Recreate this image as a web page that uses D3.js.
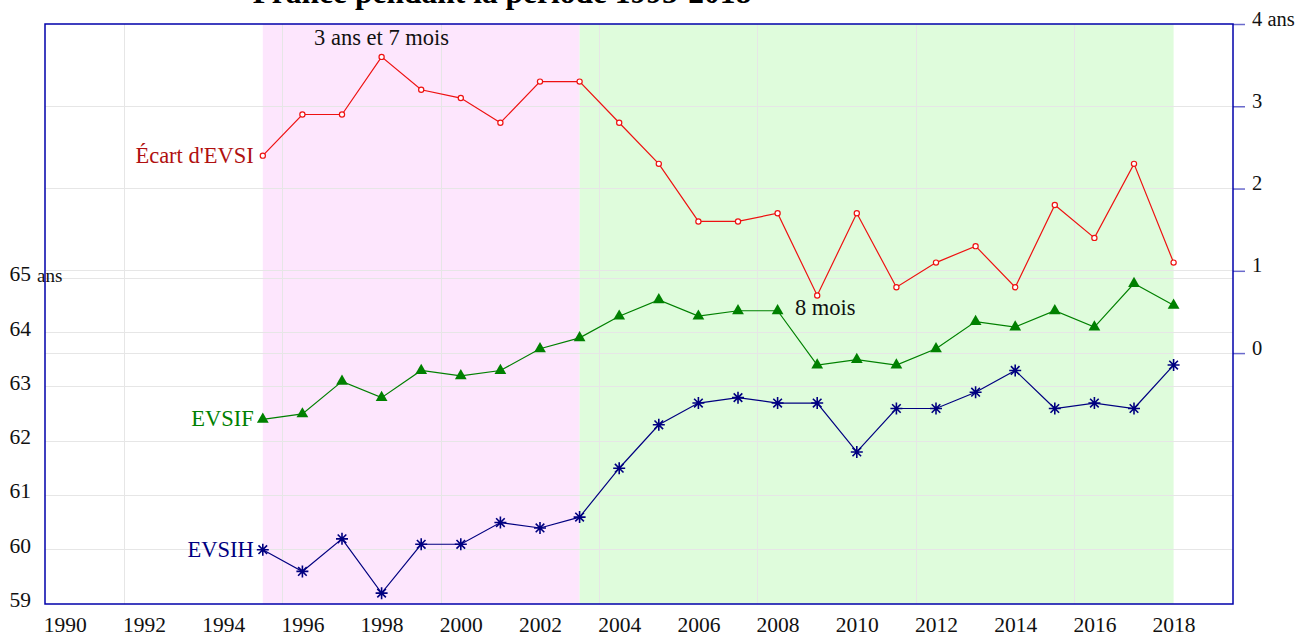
<!DOCTYPE html>
<meta charset="utf-8">
<style>
  body { margin: 0; background: #fff; font-family: "Liberation Serif", serif; }
  .grid line { stroke: #e6e6e6; stroke-width: 1px; shape-rendering: crispEdges; }
  .axis text { font-family: "Liberation Serif", serif; fill: #111; }
  .axis .domain { display: none; }
  .x.axis line { display: none; }
  .yl.axis line { display: none; }
  .yr.axis line { stroke: #6a6acc; stroke-width: 1.5px; }
  .frame { fill: none; stroke: #0000aa; stroke-width: 1.5px; }
  .lbl { font-family: "Liberation Serif", serif; font-size: 22.5px; }
</style>
<body>
<div id="chart"></div>
<script src="https://d3js.org/d3.v7.min.js"></script>
<script>
// data
const years = d3.range(1995, 2019);
const evsif = [62.4, 62.5, 63.1, 62.8, 63.3, 63.2, 63.3, 63.7, 63.9, 64.3, 64.6, 64.3,
               64.4, 64.4, 63.4, 63.5, 63.4, 63.7, 64.2, 64.1, 64.4, 64.1, 64.9, 64.5];
const evsih = [60.0, 59.6, 60.2, 59.2, 60.1, 60.1, 60.5, 60.4, 60.6, 61.5, 62.3, 62.7,
               62.8, 62.7, 62.7, 61.8, 62.6, 62.6, 62.9, 63.3, 62.6, 62.7, 62.6, 63.4];
const ecart = [2.4, 2.9, 2.9, 3.6, 3.2, 3.1, 2.8, 3.3, 3.3, 2.8, 2.3, 1.6,
               1.6, 1.7, 0.7, 1.7, 0.8, 1.1, 1.3, 0.8, 1.8, 1.4, 2.3, 1.1];
const xTicks = d3.range(1990, 2019, 2);
const leftTicks = [59, 60, 61, 62, 63, 64, 65];
const rightTicks = [0, 1, 2, 3, 4];
const vGrid = [1991.5, 1995.5, 1999.5, 2003.5, 2007.5, 2011.5, 2015.5];
const periods = [
  {from: 1995, to: 2003, color: "#fde6fd"},
  {from: 2003, to: 2018, color: "#dffcdc"}
];
const title = "France pendant la période 1995-2018";

const W = 1312, H = 637;
const L = 45, R = 1233, T = 24, B = 604;

const svg = d3.select("#chart").append("svg")
  .attr("width", W).attr("height", H);

const x = d3.scaleLinear().domain([1989.5, 2019.5]).range([L, R]);
const yL = d3.scaleLinear().domain([59, 69.68]).range([B, T]);
const yR = d3.scaleLinear().domain([-3.05, 4]).range([B, T]);

// title (mostly cut off at the top, as in the original)
svg.append("text")
  .attr("x", 502).attr("y", 3)
  .attr("text-anchor", "middle")
  .style("font-family", "Liberation Serif, serif")
  .style("font-weight", "bold")
  .style("font-size", "31.5px")
  .text(title);

// shaded periods
svg.selectAll("rect.period")
  .data(periods)
  .enter().append("rect")
  .attr("class", "period")
  .attr("x", d => x(d.from))
  .attr("width", d => x(d.to) - x(d.from))
  .attr("y", T).attr("height", B - T)
  .attr("fill", d => d.color);

// grid
const grid = svg.append("g").attr("class", "grid");
grid.selectAll("line.v").data(vGrid).enter().append("line")
  .attr("x1", d => x(d)).attr("x2", d => x(d))
  .attr("y1", T).attr("y2", B);
grid.selectAll("line.hl").data(leftTicks.slice(1)).enter().append("line")
  .attr("x1", L).attr("x2", R)
  .attr("y1", d => yL(d)).attr("y2", d => yL(d));
grid.selectAll("line.hr").data(rightTicks.slice(0, 4)).enter().append("line")
  .attr("x1", L).attr("x2", R)
  .attr("y1", d => yR(d)).attr("y2", d => yR(d));

// axes
const xAxis = svg.append("g")
  .attr("class", "x axis")
  .attr("transform", "translate(0," + B + ")")
  .call(d3.axisBottom(x).tickValues(xTicks).tickFormat(d3.format("d")).tickSize(0).tickPadding(13));
xAxis.selectAll("text").style("font-size", "21.5px");

const yAxisL = svg.append("g")
  .attr("class", "yl axis")
  .attr("transform", "translate(" + L + ",0)")
  .call(d3.axisLeft(yL).tickValues(leftTicks).tickSize(0).tickPadding(14));
yAxisL.selectAll("text").style("font-size", "21.5px").attr("dy", "0.12em");

svg.append("text")
  .attr("x", 37).attr("y", yL(65) + 4)
  .style("font-family", "Liberation Serif, serif")
  .style("font-size", "19px")
  .attr("fill", "#111")
  .text("ans");

const yAxisR = svg.append("g")
  .attr("class", "yr axis")
  .attr("transform", "translate(" + R + ",0)")
  .call(d3.axisRight(yR).tickValues(rightTicks).tickSize(12).tickPadding(7)
    .tickFormat(d => d === 4 ? "4 ans" : d));
yAxisR.selectAll("text").style("font-size", "20.5px").attr("dy", "0.05em");

// frame
svg.append("rect").attr("class", "frame")
  .attr("x", L).attr("y", T).attr("width", R - L).attr("height", B - T);

// lines
const series = [
  {name: "Écart d'EVSI", values: ecart, y: yR, color: "#ee1111", text: "#b01010", marker: "circle"},
  {name: "EVSIF", values: evsif, y: yL, color: "#008000", text: "#008000", marker: "triangle"},
  {name: "EVSIH", values: evsih, y: yL, color: "#000080", text: "#000080", marker: "star"}
];

series.forEach(s => {
  const pts = years.map((yr, i) => [x(yr), s.y(s.values[i])]);
  svg.append("path")
    .attr("d", d3.line()(pts))
    .attr("fill", "none")
    .attr("stroke", s.color)
    .attr("stroke-width", 1.2);

  const g = svg.append("g");
  if (s.marker === "circle") {
    g.selectAll("circle").data(pts).enter().append("circle")
      .attr("cx", d => d[0]).attr("cy", d => d[1]).attr("r", 2.6)
      .attr("fill", "#fff").attr("stroke", s.color).attr("stroke-width", 1.2);
  } else if (s.marker === "triangle") {
    g.selectAll("path").data(pts).enter().append("path")
      .attr("d", d3.symbol(d3.symbolTriangle, 60))
      .attr("transform", d => "translate(" + d[0] + "," + d[1] + ")")
      .attr("fill", s.color);
  } else {
    g.selectAll("path").data(pts).enter().append("path")
      .attr("d", "M0,-6V6M-6,0H6M-4.3,-4.3L4.3,4.3M-4.3,4.3L4.3,-4.3")
      .attr("transform", d => "translate(" + d[0] + "," + d[1] + ")")
      .attr("stroke", s.color).attr("stroke-width", 1.6).attr("fill", "none");
  }

  svg.append("text")
    .attr("class", "lbl")
    .attr("x", pts[0][0] - 9)
    .attr("y", pts[0][1] + 7)
    .attr("text-anchor", "end")
    .attr("fill", s.text)
    .text(s.name);
});

// annotations on the gap
const maxI = ecart.indexOf(d3.max(ecart));
const minI = ecart.indexOf(d3.min(ecart));
svg.append("text").attr("class", "lbl")
  .attr("x", x(years[maxI])).attr("y", yR(ecart[maxI]) - 12)
  .attr("text-anchor", "middle").attr("fill", "#111")
  .text("3 ans et 7 mois");
svg.append("text").attr("class", "lbl")
  .attr("x", x(years[minI]) + 8).attr("y", yR(ecart[minI]) + 20)
  .attr("text-anchor", "middle").attr("fill", "#111")
  .text("8 mois");
</script>
</body>
